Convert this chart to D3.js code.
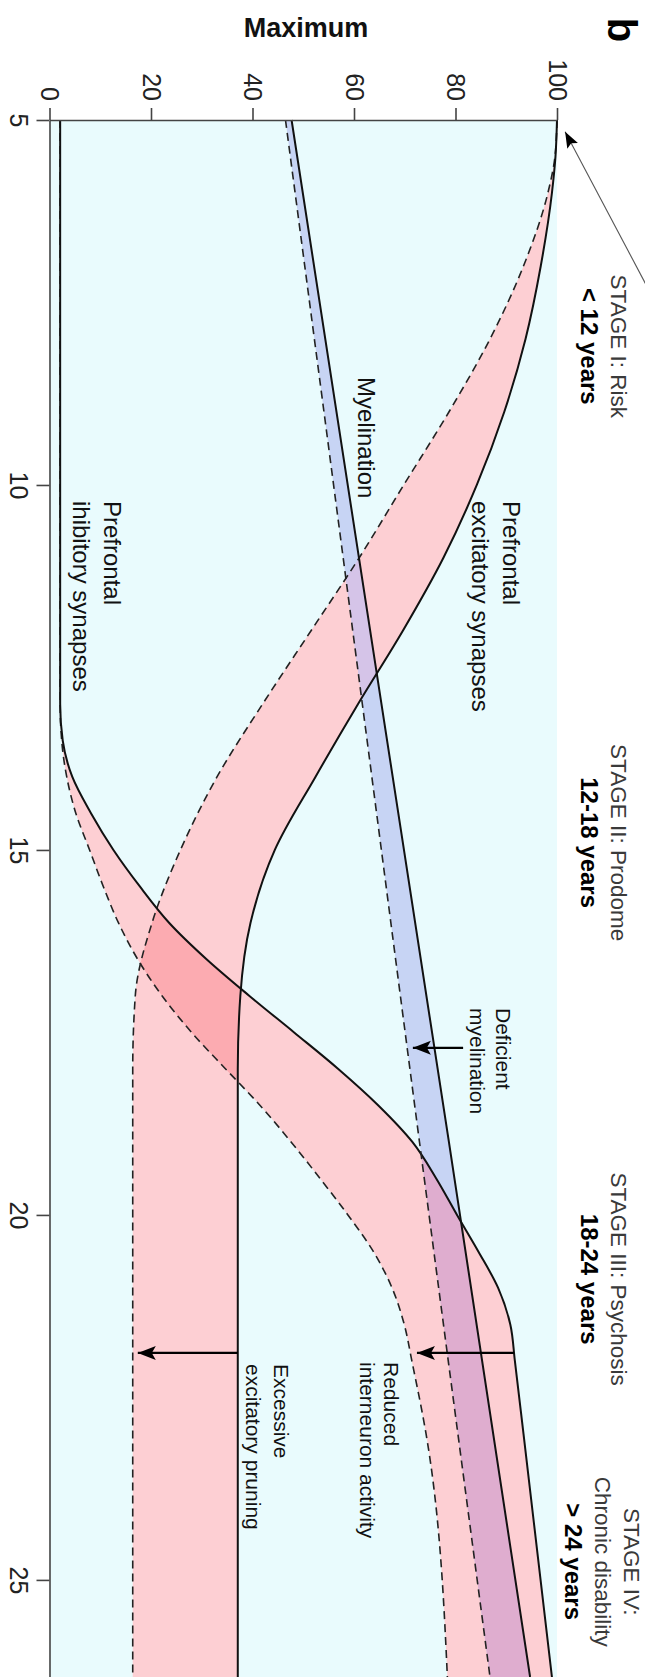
<!DOCTYPE html>
<html><head><meta charset="utf-8">
<script src="https://cdn.jsdelivr.net/npm/d3@7"></script>
<style>
html,body{margin:0;padding:0;background:#fff;}
svg{display:block;font-family:"Liberation Sans",Arial,Helvetica,sans-serif;}
</style>
</head><body>
<svg id="c" width="645" height="1677"></svg>
<script>
// ---- data ----
const valueTicks = [0, 20, 40, 60, 80, 100];
const ageTicks = [5, 10, 15, 20, 25];
const ageDomain = [5, 26.33];

// Prefrontal excitatory synapses (normal = solid, excessive pruning = dashed)
const excAges    = [5, 5.5, 6, 7, 8, 9, 10, 11, 12, 13, 14, 15, 16, 17, 18, 26.33];
const excNormal  = [100, 99.7, 99.0, 96.8, 93.8, 89.6, 84.2, 77.6, 69.6, 60.8, 52.4, 44.4, 39.6, 37.6, 37.1, 37.1];
const excPruned  = [100, 99.6, 98.2, 93.4, 86.8, 78.7, 69.8, 61.0, 51.5, 42.0, 33.0, 25.8, 20.2, 16.9, 16.4, 16.4];

// Prefrontal inhibitory synapses (normal = solid, reduced = dashed)
const inhAges    = [5, 13, 13.5, 14, 14.5, 15, 15.5, 16, 16.5, 17, 17.5, 18, 18.5, 19, 19.5, 20, 20.5, 21, 21.5, 22, 23, 26.33];
const inhNormal  = [2.1, 2.1, 2.6, 4.5, 8.2, 12.6, 17.8, 23.6, 31.0, 39.4, 48.2, 56.9, 64.8, 71.5, 76.2, 80.3, 84.5, 88.4, 90.8, 91.7, 93.4, 99.0];
const inhReduced = [2.1, 2.1, 2.4, 3.4, 5.2, 7.9, 10.6, 13.6, 17.4, 22.2, 28.0, 34.7, 41.5, 47.6, 53.3, 58.8, 63.8, 67.5, 69.9, 71.4, 74.2, 78.4];

// Myelination (normal = solid, deficient = dashed)
const myelAges      = [5, 12.5, 19, 26.33];
const myelNormal    = [47.7, 64.3, 78.7, 94.7];
const myelDeficient = [46.5, 60.7, 72.9, 86.8];

// Stage labels
const stageTitles = [["STAGE I: Risk"], ["STAGE II: Prodome"], ["STAGE III: Psychosis"], ["STAGE IV:", "Chronic disability"]];
const stageYears  = ["< 12 years", "12-18 years", "18-24 years", "> 24 years"];
const stageAges   = [8.1, 14.9, 20.88, 24.75];

// Annotation arrows: [age, from value, to value]
const arrowAges  = [17.71, 21.89, 21.89];
const arrowFrom  = [81.5, 91.5, 37.1];
const arrowTo    = [71.6, 72.4, 17.4];

// ---- drawing ----
const svg = d3.select("#c");
const x = d3.scaleLinear().domain([0, 100]).range([49.5, 557]);
const y = d3.scaleLinear().domain(ageDomain).range([120, 1677]);

const defs = svg.append("defs");
defs.append("marker").attr("id", "ah").attr("markerUnits", "userSpaceOnUse")
  .attr("markerWidth", 20).attr("markerHeight", 16).attr("refX", 18).attr("refY", 7)
  .attr("orient", "auto")
  .append("path").attr("d", "M0,0 L18,7 L0,14 L4,7 Z").attr("fill", "#000");
defs.append("marker").attr("id", "ah2").attr("markerUnits", "userSpaceOnUse")
  .attr("markerWidth", 18).attr("markerHeight", 14).attr("refX", 16).attr("refY", 6)
  .attr("orient", "auto")
  .append("path").attr("d", "M0,0 L16,6 L0,12 L3,6 Z").attr("fill", "#000");

// background
svg.append("rect").attr("x", x(0)).attr("y", y(ageDomain[0]))
  .attr("width", x(100) - x(0)).attr("height", y(ageDomain[1]) - y(ageDomain[0]))
  .attr("fill", "#e9fbfd");

const band = d3.area().y(d => y(d.a)).x0(d => x(d.lo)).x1(d => x(d.hi)).curve(d3.curveMonotoneY);
const line = d3.line().y(d => y(d[0])).x(d => x(d[1])).curve(d3.curveMonotoneY);

const excBand  = excAges.map((a, i) => ({a, lo: excPruned[i], hi: excNormal[i]}));
const inhBand  = inhAges.map((a, i) => ({a, lo: inhReduced[i], hi: inhNormal[i]}));
const myelBand = myelAges.map((a, i) => ({a, lo: myelDeficient[i], hi: myelNormal[i]}));

defs.append("clipPath").attr("id", "clipExc").append("path").attr("d", band(excBand));
defs.append("clipPath").attr("id", "clipInh").append("path").attr("d", band(inhBand));

svg.append("path").attr("d", band(excBand)).attr("fill", "#fdcfd3");
svg.append("path").attr("d", band(inhBand)).attr("fill", "#fdcfd3");
svg.append("path").attr("d", band(myelBand)).attr("fill", "#c7d4f4");
svg.append("path").attr("d", band(inhBand)).attr("fill", "#fcabb1").attr("clip-path", "url(#clipExc)");
svg.append("path").attr("d", band(myelBand)).attr("fill", "#d5c4e8").attr("clip-path", "url(#clipExc)");
svg.append("path").attr("d", band(myelBand)).attr("fill", "#dfadcf").attr("clip-path", "url(#clipInh)");

function drawLine(ages, vals, dashed) {
  svg.append("path").attr("d", line(ages.map((a, i) => [a, vals[i]])))
    .attr("fill", "none").attr("stroke", dashed ? "#222" : "#111")
    .attr("stroke-width", dashed ? 1.6 : 2)
    .attr("stroke-dasharray", dashed ? "8,5" : null);
}
drawLine(excAges, excPruned, true);
drawLine(excAges, excNormal, false);
drawLine(inhAges, inhReduced, true);
drawLine(inhAges, inhNormal, false);
drawLine(myelAges, myelDeficient, true);
drawLine(myelAges, myelNormal, false);

// annotation arrows
arrowAges.forEach((a, i) => {
  svg.append("line").attr("x1", x(arrowFrom[i])).attr("x2", x(arrowTo[i]))
    .attr("y1", y(a)).attr("y2", y(a))
    .attr("stroke", "#000").attr("stroke-width", 2.2).attr("marker-end", "url(#ah)");
});
// stage I pointer arrow
svg.append("line").attr("x1", x(117.5)).attr("y1", y(7.25)).attr("x2", x(101.6)).attr("y2", y(5.16))
  .attr("stroke", "#555").attr("stroke-width", 1.1).attr("marker-end", "url(#ah2)");

// axes
const axT = svg.append("g").attr("transform", `translate(0,${y(5)})`)
  .call(d3.axisTop(x).tickValues(valueTicks).tickSize(12).tickSizeOuter(0));
const axL = svg.append("g").attr("transform", `translate(${x(0)},0)`)
  .call(d3.axisLeft(y).tickValues(ageTicks).tickSize(13).tickSizeOuter(0));
[axT, axL].forEach(g => {
  g.select(".domain").attr("stroke", "#444").attr("stroke-width", 1.6);
  g.selectAll(".tick line").attr("stroke", "#444").attr("stroke-width", 1.6);
  g.selectAll(".tick text").attr("font-size", 25).attr("fill", "#222")
    .attr("font-family", '"Liberation Sans",Arial,sans-serif');
});
axT.selectAll(".tick text").attr("x", 0).attr("y", 0).attr("dy", "0.35em")
  .attr("text-anchor", "end").attr("transform", "translate(0,-19) rotate(90)");
axL.selectAll(".tick text").attr("x", 0).attr("y", 0).attr("dy", "0.35em")
  .attr("text-anchor", "middle").attr("transform", "translate(-31,0) rotate(90)");

// rotated text helper
function vtext(cx, cy, str, size, anchor, weight, color) {
  svg.append("text").attr("transform", `translate(${cx},${cy}) rotate(90)`)
    .attr("dy", "0.35em").attr("text-anchor", anchor)
    .attr("font-size", size).attr("font-weight", weight || "normal")
    .attr("fill", color || "#111").text(str);
}

// curve labels
vtext(511, 501, "Prefrontal", 24, "start");
vtext(480, 501, "excitatory synapses", 24, "start");
vtext(366, 377, "Myelination", 24, "start");
vtext(112, 501, "Prefrontal", 24, "start");
vtext(81, 501, "ihibitory synapses", 24, "start");
vtext(503, 1008, "Deficient", 21, "start");
vtext(477, 1008, "myelination", 21, "start");
vtext(391, 1362, "Reduced", 21, "start");
vtext(367, 1362, "interneuron activity", 21, "start");
vtext(281, 1364, "Excessive", 21, "start");
vtext(253, 1364, "excitatory pruning", 21, "start");

// stage labels
stageTitles.forEach((lines, i) => {
  const cy = y(stageAges[i]);
  const right = lines.length > 1 ? 632 : 619;
  lines.forEach((t, k) => vtext(right - 29.5 * k, cy, t, 22.5, "middle", "normal", "#3a3a3a"));
  vtext(right - 29.5 * lines.length, cy, stageYears[i], 24, "middle", "bold", "#000");
});

// titles
svg.append("text").attr("x", 306).attr("y", 37).attr("text-anchor", "middle")
  .attr("font-size", 27).attr("font-weight", "bold").attr("fill", "#111").text("Maximum");
vtext(622, 30, "b", 40, "middle", "bold", "#000");
</script>
</body></html>
